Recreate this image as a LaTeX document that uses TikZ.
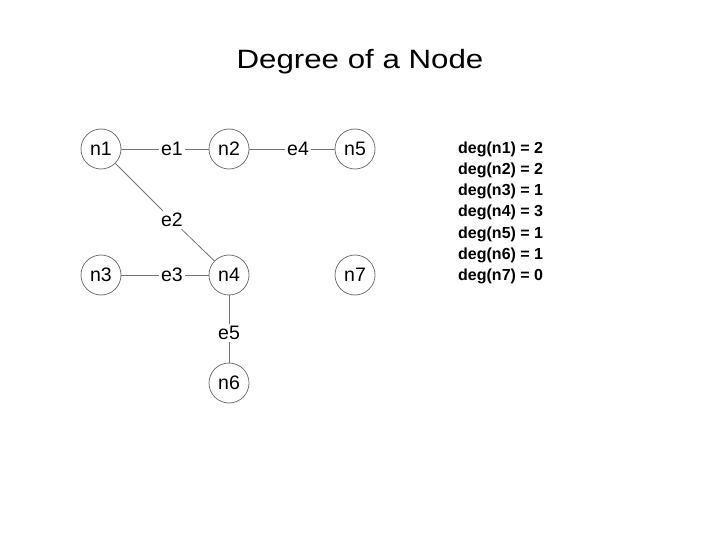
\documentclass[tikz,border=0pt]{standalone}
\usepackage{fontspec}
\setmainfont{Liberation Sans}
\begin{document}
\begin{tikzpicture}[x=1pt,y=-1pt,
  vert/.style={circle,draw=black!55,line width=0.8pt,minimum size=40pt,inner sep=0pt,font=\fontsize{19.5}{22}\selectfont},
  elab/.style={inner sep=2pt,font=\fontsize{19.5}{22}\selectfont},
  conn/.style={draw=black!55,line width=0.8pt},
  degtxt/.style={anchor=base west,inner sep=0pt,font=\fontsize{16}{18}\selectfont\bfseries}]
\useasboundingbox (0,0) rectangle (720,540);
\node[anchor=base,inner sep=0pt,font=\fontsize{26.5}{30}\selectfont] (title) at (360,68.3) {\scalebox{1.18}[1]{Degree of a Node}};
\node[vert] (n1) at (101,149) {n1};
\node[vert] (n2) at (229,149) {n2};
\node[vert] (n5) at (355,149) {n5};
\node[vert] (n3) at (101,275) {n3};
\node[vert] (n4) at (229,275) {n4};
\node[vert] (n7) at (355,275) {n7};
\node[vert] (n6) at (229,383) {n6};
\node[elab] (e1) at (172,149) {e1};
\node[elab] (e4) at (298,149) {e4};
\node[elab] (e2) at (172,220) {e2};
\node[elab] (e3) at (172,275) {e3};
\node[elab] (e5) at (229,333) {e5};
\draw[conn] (n1) -- (e1) -- (n2);
\draw[conn] (n2) -- (e4) -- (n5);
\draw[conn] (n1) -- (e2) -- (n4);
\draw[conn] (n3) -- (e3) -- (n4);
\draw[conn] (n4) -- (e5) -- (n6);
\node[degtxt] (d1) at (458,153.3) {deg(n1) = 2};
\node[degtxt] (d2) at (458,174.5) {deg(n2) = 2};
\node[degtxt] (d3) at (458,195.7) {deg(n3) = 1};
\node[degtxt] (d4) at (458,216.9) {deg(n4) = 3};
\node[degtxt] (d5) at (458,238.1) {deg(n5) = 1};
\node[degtxt] (d6) at (458,259.3) {deg(n6) = 1};
\node[degtxt] (d7) at (458,280.5) {deg(n7) = 0};
\end{tikzpicture}
\end{document}
